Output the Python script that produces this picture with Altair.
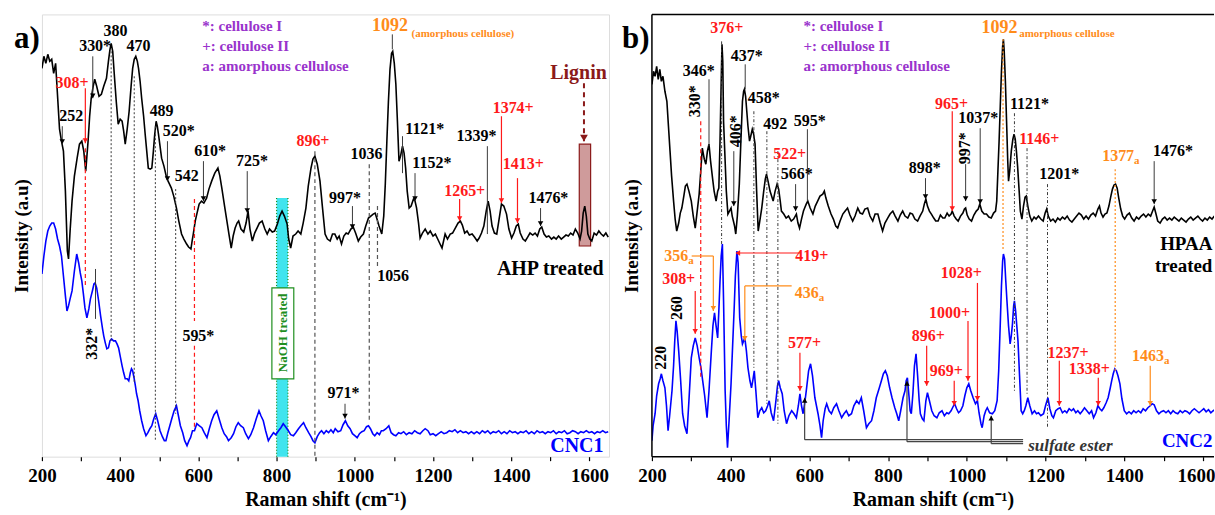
import altair as alt
import pandas as pd

# ---------------- spectra (wavenumber cm-1, intensity a.u.) ----------------
A_AHP = [(200,389),(205,401),(210,394),(215,403),(220,396),(225,398),(230,384),(235,394),(240,361),(245,328),
(250,316),(255,306),(260,266),(265,206),(268,198),(272,226),(277,256),(283,281),(290,299),(296,313),(302,316),
(307,306),(312,286),(318,316),(322,341),(326,359),(331,371),(335,378),(340,371),(346,361),(352,363),(358,371),
(365,379),(370,396),(374,408),(377,414),(381,406),(385,383),(390,356),(395,333),(400,338),(405,336),(409,326),
(413,313),(418,328),(423,346),(428,371),(432,389),(436,398),(440,401),(444,396),(447,389),(451,376),(455,359),
(460,341),(464,323),(468,306),(472,289),(477,288),(481,289),(485,306),(488,321),(492,336),(495,331),(498,323),
(502,311),(506,299),(512,291),(519,279),(525,274),(531,269),(537,261),(544,249),(550,236),(557,223),(563,218),
(570,213),(575,210),(581,208),(584,216),(587,223),(592,236),(596,243),(602,253),(608,256),(614,254),(621,259),
(627,268),(634,276),(642,284),(650,289),(655,281),(660,269),(667,251),(673,236),(679,221),(684,209),(689,221),
(694,229),(699,234),(703,236),(709,228),(716,225),(722,234),(727,246),(732,228),(738,216),(744,224),(750,229),
(756,234),(763,236),(770,228),(776,223),(782,228),(789,225),(795,226),(802,233),(808,241),(814,246),(820,241),
(827,233),(831,218),(836,209),(842,221),(849,223),(855,226),(862,223),(868,234),(875,249),(881,271),(888,289),
(893,298),(898,301),(904,293),(911,276),(917,251),(924,223),(930,218),(937,216),(943,223),(949,223),(955,218),
(960,221),(966,213),(972,221),(978,224),(983,223),(990,228),(996,230),(1002,224),(1009,216),(1015,220),(1022,223),
(1028,231),(1035,239),(1041,241),(1047,243),(1052,244),(1056,239),(1062,231),(1069,223),(1074,241),(1078,273),
(1082,316),(1086,356),(1090,388),(1094,404),(1097,406),(1101,394),(1105,373),(1109,336),(1113,296),(1117,301),
(1122,311),(1126,304),(1130,289),(1134,266),(1139,249),(1144,251),(1150,258),(1154,256),(1158,249),(1163,234),
(1167,219),(1173,224),(1180,228),(1187,223),(1193,226),(1200,221),(1206,223),(1212,218),(1218,213),(1223,209),
(1227,216),(1231,223),(1237,218),(1244,223),(1250,224),(1257,229),(1264,234),(1270,236),(1275,232),(1281,224),
(1287,226),(1293,222),(1300,223),(1306,220),(1313,216),(1318,219),(1324,224),(1330,231),(1336,246),(1341,256),
(1346,246),(1351,231),(1357,224),(1363,223),(1369,238),(1375,253),(1381,251),(1388,243),(1394,228),(1401,219),
(1407,224),(1413,231),(1418,233),(1423,224),(1430,218),(1436,216),(1442,220),(1448,224),(1455,222),(1461,224),
(1467,221),(1473,228),(1478,230),(1484,223),(1490,220),(1496,221),(1503,218),(1509,220),(1515,218),(1521,221),
(1528,218),(1534,220),(1540,222),(1546,221),(1552,224),(1558,222),(1564,228),(1570,224),(1576,218),(1580,226),
(1584,244),(1588,251),(1592,241),(1596,223),(1601,218),(1606,216),(1612,224),(1618,222),(1624,226),(1630,223),
(1636,221),(1642,224),(1648,220)]

A_CNC1 = [(200,183),(205,201),(210,216),(215,226),(220,231),(225,234),(230,234),(235,228),(240,218),(245,211),
(250,201),(255,181),(260,161),(264,146),(268,151),(272,158),(277,166),(283,186),(289,203),(294,194),(298,184),
(302,176),(306,163),(310,149),(315,139),(320,148),(324,158),(329,166),(333,173),(336,174),(340,169),(345,156),
(350,141),(355,128),(358,121),(362,114),(366,108),(370,109),(374,116),(378,118),(383,116),(388,116),(392,113),
(396,109),(400,101),(405,91),(409,84),(413,78),(418,78),(422,76),(426,84),(429,88),(432,86),(436,78),(439,71),
(442,63),(446,56),(450,46),(455,36),(460,28),(466,21),(471,24),(476,28),(481,31),(486,38),(491,43),(496,36),
(502,26),(508,20),(513,16),(517,16),(522,24),(527,31),(532,38),(538,46),(544,51),(549,41),(554,31),(560,24),
(565,16),(571,11),(576,16),(580,19),(585,26),(590,26),(596,33),(602,31),(609,29),(615,24),(622,19),(628,28),
(634,36),(640,42),(647,46),(653,38),(660,29),(666,23),(672,20),(677,16),(684,19),(690,23),(696,30),(702,34),
(708,31),(715,29),(721,23),(728,18),(734,22),(741,29),(748,38),(755,46),(760,41),(766,36),(772,26),(779,16),
(785,20),(792,24),(798,22),(805,26),(811,29),(817,33),(823,30),(830,26),(836,22),(843,21),(849,24),(856,28),
(862,31),(869,34),(875,29),(882,24),(888,20),(893,16),(898,14),(904,20),(910,24),(915,26),(921,23),(927,26),
(933,24),(939,27),(945,24),(950,28),(957,25),(964,26),(970,32),(976,36),(982,31),(988,28),(994,23),(1000,21),
(1006,19),(1012,23),(1018,25),(1024,26),(1030,30),(1035,31),(1040,28),(1046,23),(1051,21),(1057,24),(1063,22),
(1068,26),(1073,26),(1080,28),(1087,31),(1093,24),(1099,22),(1105,21),(1112,24),(1118,23),(1125,25),(1132,22),
(1139,24),(1146,23),(1153,26),(1160,24),(1167,23),(1174,26),(1180,28),(1187,26),(1193,22),(1200,23),(1207,21),
(1214,23),(1221,25),(1228,23),(1235,24),(1242,26),(1249,25),(1256,27),(1263,24),(1270,26),(1277,24),(1284,25),
(1291,23),(1298,25),(1305,23),(1312,25),(1319,23),(1326,26),(1333,24),(1340,26),(1347,23),(1354,25),(1361,24),
(1368,26),(1375,23),(1382,25),(1389,23),(1396,26),(1403,24),(1410,25),(1417,23),(1424,25),(1431,24),(1438,26),
(1445,23),(1452,25),(1459,23),(1466,26),(1473,24),(1480,25),(1487,23),(1494,25),(1501,24),(1508,26),(1515,23),
(1522,25),(1529,24),(1536,26),(1543,23),(1550,24),(1557,26),(1564,25),(1571,23),(1578,25),(1585,24),(1592,26),
(1599,24),(1606,25),(1613,23),(1620,25),(1627,24),(1634,26),(1641,24),(1648,25)]

B_HPAA = [(200,373),(204,386),(208,381),(212,391),(216,378),(220,388),(224,376),(228,381),(233,366),(238,356),
(242,331),(246,306),(250,281),(255,256),(259,238),(263,226),(268,234),(272,244),(276,249),(281,261),(285,271),
(289,273),(294,266),(300,256),(305,241),(310,229),(315,246),(320,263),(324,286),(328,309),(333,298),(337,293),
(341,306),(345,313),(349,296),(354,279),(358,266),(363,256),(367,266),(370,269),(373,316),(376,376),(378,413),
(380,396),(382,336),(385,306),(389,266),(393,243),(397,246),(401,249),(404,241),(407,236),(410,231),(413,223),
(417,241),(422,273),(426,316),(430,356),(433,366),(435,368),(438,361),(441,346),(444,331),(448,316),(451,321),
(455,328),(458,324),(462,313),(466,266),(470,226),(474,236),(479,249),(484,266),(488,278),(491,283),(495,276),
(500,266),(504,261),(508,256),(513,266),(518,273),(522,268),(526,256),(529,246),(535,243),(541,239),(547,241),
(554,236),(560,238),(567,243),(571,234),(575,229),(580,238),(585,246),(588,249),(592,253),(596,256),(602,249),
(609,243),(615,251),(621,256),(627,261),(634,263),(638,266),(642,259),(648,251),(655,243),(661,238),(667,231),
(672,229),(678,236),(685,243),(691,246),(697,249),(703,242),(710,236),(716,241),(723,249),(729,244),(735,243),
(741,248),(748,249),(754,241),(761,236),(767,243),(774,243),(780,234),(786,226),(792,234),(799,239),(805,243),
(812,246),(818,241),(825,236),(831,242),(837,246),(843,241),(850,239),(856,244),(862,243),(868,238),(875,236),
(881,241),(888,246),(892,253),(896,258),(900,251),(905,246),(910,243),(916,239),(921,236),(927,236),(933,242),
(939,239),(944,239),(950,244),(955,241),(960,243),(963,246),(968,241),(973,238),(978,236),(984,241),(990,244),
(994,248),(997,249),(1001,242),(1006,238),(1012,236),(1018,242),(1024,246),(1029,248),(1033,253),(1038,246),
(1044,243),(1050,243),(1056,240),(1062,239),(1068,244),(1073,246),(1076,256),(1079,286),(1082,316),(1085,351),
(1088,386),(1091,411),(1093,418),(1095,406),(1098,376),(1101,336),(1104,296),(1106,276),(1109,286),(1113,306),
(1117,318),(1120,323),(1123,318),(1126,306),(1129,291),(1133,266),(1136,246),(1140,238),(1144,251),(1148,260),
(1151,261),(1155,251),(1160,241),(1165,236),(1171,240),(1176,238),(1182,241),(1188,238),(1194,236),(1199,244),
(1203,248),(1207,241),(1213,236),(1219,238),(1225,235),(1231,239),(1237,237),(1243,240),(1249,238),(1255,241),
(1261,237),(1267,235),(1273,238),(1279,241),(1285,244),(1291,242),(1297,238),(1303,241),(1309,238),(1315,242),
(1321,244),(1327,241),(1333,248),(1337,251),(1341,244),(1346,240),(1351,243),(1356,244),(1361,251),(1366,261),
(1370,268),(1374,272),(1378,273),(1382,269),(1386,259),(1391,248),(1396,241),(1401,238),(1407,242),(1413,244),
(1419,239),(1425,236),(1431,240),(1437,238),(1443,241),(1449,243),(1455,240),(1461,243),(1467,241),(1472,246),
(1476,250),(1480,244),(1485,236),(1491,234),(1497,238),(1503,240),(1509,237),(1515,239),(1521,237),(1527,240),
(1533,238),(1539,236),(1545,239),(1551,237),(1557,235),(1563,238),(1569,240),(1575,237),(1581,239),(1587,241),
(1593,238),(1599,236),(1605,239),(1611,237),(1617,240),(1623,238),(1629,241)]

B_CNC2 = [(200,16),(203,31),(208,43),(212,61),(217,73),(221,78),(224,83),(228,76),(233,69),(237,51),(241,26),
(245,41),(251,66),(255,91),(258,116),(261,136),(264,126),(268,106),(273,76),(278,43),(283,31),(289,23),(294,56),
(300,99),(305,111),(310,119),(315,111),(320,99),(325,88),(329,76),(334,61),(340,39),(345,66),(351,106),(355,131),
(359,144),(363,131),(367,119),(370,146),(373,176),(376,201),(379,213),(382,156),(386,66),(389,31),(392,9),
(396,36),(401,73),(405,111),(409,149),(412,181),(416,206),(419,194),(423,139),(427,121),(430,113),(433,116),
(436,119),(440,106),(444,89),(449,76),(453,69),(457,78),(460,86),(464,66),(469,39),(474,46),(479,49),(484,44),
(489,46),(494,51),(498,56),(503,44),(509,36),(515,56),(519,71),(522,76),(526,69),(531,63),(536,46),(542,33),
(548,41),(555,46),(561,43),(567,39),(572,51),(576,63),(580,51),(584,43),(589,56),(593,69),(598,86),(603,93),
(608,81),(614,59),(618,51),(622,43),(627,31),(631,19),(635,36),(640,48),(644,53),(650,46),(656,43),(662,49),
(669,53),(675,46),(682,39),(688,43),(694,46),(700,41),(707,43),(713,51),(720,56),(726,53),(732,59),(738,46),
(745,29),(751,33),(758,36),(764,46),(770,59),(777,68),(783,76),(788,83),(793,86),(798,81),(804,69),(810,59),
(817,49),(822,43),(827,36),(832,46),(838,59),(843,66),(846,76),(849,79),(853,61),(856,46),(859,43),(863,63),
(867,91),(871,103),(875,81),(879,56),(882,43),(887,38),(891,36),(896,56),(900,64),(905,56),(911,46),(917,41),
(924,39),(930,44),(937,46),(943,41),(949,44),(954,43),(960,46),(965,50),(969,53),(974,48),(979,44),(984,46),
(990,51),(995,61),(1000,69),(1005,73),(1010,66),(1016,59),(1022,53),(1027,56),(1031,44),(1036,33),(1039,29),
(1044,41),(1048,46),(1052,49),(1058,44),(1065,43),(1071,46),(1077,56),(1081,86),(1085,133),(1088,171),(1091,196),
(1093,203),(1096,198),(1099,176),(1102,156),(1106,131),(1110,113),(1113,121),(1116,133),(1119,151),(1121,156),
(1124,146),(1127,131),(1130,116),(1134,81),(1138,46),(1142,43),(1146,46),(1150,51),(1155,59),(1160,51),(1166,43),
(1172,46),(1177,43),(1182,44),(1188,41),(1195,43),(1200,51),(1206,59),(1211,48),(1216,41),(1220,39),(1226,46),
(1232,48),(1237,49),(1243,44),(1249,46),(1254,44),(1260,48),(1266,46),(1271,48),(1277,44),(1282,46),(1288,43),
(1294,46),(1299,49),(1305,46),(1311,43),(1317,46),(1322,39),(1328,44),(1333,51),(1338,48),(1343,46),(1348,49),
(1354,54),(1359,59),(1364,68),(1368,76),(1372,83),(1376,88),(1380,86),(1384,81),(1389,73),(1394,58),(1400,46),
(1406,43),(1412,45),(1418,43),(1424,46),(1430,44),(1436,46),(1442,44),(1448,48),(1454,46),(1460,49),(1466,51),
(1471,53),(1476,52),(1482,46),(1488,43),(1494,45),(1500,46),(1506,44),(1512,46),(1518,43),(1524,46),(1530,44),
(1536,43),(1542,46),(1548,44),(1554,46),(1560,45),(1566,43),(1572,46),(1578,48),(1584,46),(1590,44),(1596,46),
(1602,48),(1608,45),(1614,47),(1620,44),(1626,46),(1630,47)]

# ---------------- annotations panel a ----------------
A_DOT_BLACK = [(377,406,116),(436,381,73),(490,331,16),(542,268,43)]
A_DASH_GRAY = [(898,306,0),(1037,293,36),(1058,251,188)]
A_DASH_RED = [(311,309,171),(590,258,136),(590,111,29)]
A_ARROW_GRAY = [(330,401,359),(252,331,313),(521,316,276),(613,296,256),(725,286,244),(994,251,228),
                (1154,284,256),(1475,249,231),(975,53,38)]
A_LINE_GRAY = [(1096,423,408),(1122,321,284),(1339,311,223),(337,188,138)]
A_ARROW_RED = [(311,369,314),(1268,258,236),(1375,341,254),(1416,279,234)]
A_LIGNIN_ARROW = [(1586,374,316)]
A_BAND_EDGE = [(800,0,259),(829,0,259)]
A_BAND = [(800,829,0,259)]
A_NAOH_BOX = [(788,844,78,169)]
A_LIGNIN_BOX = [(1574,1603,211,313)]

A_TXT_BLACK = [("380",388,426),("330*",336,411),("470",447,411),("252",275,341),("489",506,346),
               ("520*",550,326),("542",570,281),("610*",630,306),("725*",737,296),("997*",975,259),
               ("1036",1030,303),("1121*",1179,328),("1152*",1197,294),("1339*",1311,321),("1476*",1495,259),
               ("595*",600,121),("971*",971,64),("1056",1098,181)]
A_TXT_RED = [("308+",277,374),("896+",893,316),("1265+",1281,266),("1374+",1405,349),("1413+",1431,293)]
A_TXT_ROT = [("332*",328,113)]
A_TXT_1092 = [("1092",1090,431)]
A_TXT_AMORPH = [("(amorphous cellulose)",1145,423)]
A_LEGEND = [("*: cellulose I",610,431),("+: cellulose II",610,411),("a: amorphous cellulose",610,391)]
A_TAG_BLACK = [("AHP treated",1636,188)]
A_TAG_BLUE = [("CNC1",1636,11)]
A_TAG_LIGNIN = [("Lignin",1572,384)]
A_TAG_NAOH = [("NaOH treated",816,124)]

# ---------------- annotations panel b ----------------
B_DOT_BLACK = [(377,416,211),(459,346,89),(492,326,53),(520,306,33),(1121,344,66),(1153,309,63),(1205,273,29)]
B_DASH_RED = [(324,336,79)]
B_DOT_ORANGE = [(1092,418,206),(1377,288,86)]
B_LINE_GRAY = [(345,378,311),(437,393,368),(595,328,256)]
B_ARROW_GRAY = [(408,306,251),(565,273,246),(895,279,258),(997,293,256),(1034,329,253),(1476,296,253)]
B_ARROW_RED = [(963,346,246),(310,166,123),(576,104,66),(898,111,71),(968,76,51),(1003,136,76),
               (1027,174,56),(1235,96,51),(1334,79,51)]
B_ARROW_ORANGE = [(356,201,146),(436,171,116),(1466,91,51)]
B_HLINE_ORANGE = [(301,356,201),(555,436,171)]
B_HARROW_RED = [(576,418,204)]
B_SULF_V = [(588,59,17),(848,76,15),(1062,41,13)]
B_SULF_H = [(588,1143,17),(848,1143,15),(1062,1143,13)]

B_TXT_BLACK = [("346*",319,386),("437*",441,401),("458*",484,359),("492",513,333),("566*",568,283),
               ("595*",601,336),("898*",893,289),("1037*",1029,339),("1121*",1159,353),("1201*",1235,283),
               ("1476*",1524,306)]
B_TXT_ROT = [("330*",309,356),("406*",413,326),("997*",996,309),("260",263,149),("220",223,99)]
B_TXT_RED = [("376+",390,429),("522+",550,303),("965+",961,353),("1146+",1184,318),("308+",268,178),
             ("419+",606,201),("577+",588,114),("896+",902,121),("969+",948,86),("1000+",956,144),
             ("1028+",986,184),("1237+",1257,104),("1338+",1311,88)]
B_TXT_ORANGE_NUM = [("356",292,201),("436",624,164),("1377",1425,301),("1463",1501,101)]
B_TXT_1092 = [("1092",1083,429)]
B_TXT_AMORPH = [("amorphous cellulose",1133,423)]
B_LEGEND = [("*: cellulose I",585,431),("+: cellulose II",585,411),("a: amorphous cellulose",585,391)]
B_TAG_BLACK = [("HPAA",1624,213),("treated",1624,191)]
B_TAG_BLUE = [("CNC2",1624,16)]
B_TAG_SULF = [("sulfate ester",1156,11)]

X_TICKS = list(range(200, 1601, 100))

# ---------------- styling ----------------
FONT = "Liberation Serif"
RED = "#ff1a1a"
ORANGE = "#ff8c1a"
PURPLE = "#9933cc"
BLUE = "#0000ff"
GRAY = "#3a3a3a"
DARKRED = "#8b1a1a"
GREEN = "#1f8f1f"
CYAN = "#40e4ee"
A_XDOM = [200, 1650]
B_XDOM = [200, 1628]
YDOM = [0, 443]
A_W, B_W, H = 568, 563, 443


def make_x(dom, flush_last=False):
    extra = {}
    if flush_last:
        extra["labelAlign"] = {"expr": "datum.value == 1600 ? 'right' : 'center'"}
        extra["labelOffset"] = {"expr": "datum.value == 1600 ? 12 : 0"}

    def X(field="wn"):
        return alt.X(f"{field}:Q", scale=alt.Scale(domain=dom, nice=False, zero=False),
                     axis=alt.Axis(values=X_TICKS, format="d",
                                   labelExpr="datum.value % 200 == 0 ? datum.label : ''",
                                   tickSize=4, tickColor="black", tickWidth=1.2, domain=False, grid=False,
                                   labelFont=FONT, labelFontWeight="bold", labelFontSize=19, labelColor="black",
                                   labelPadding=6, labelFlush=False,
                                   title="Raman shift (cm\u207b\u00b9)", titleFont=FONT, titleFontSize=20,
                                   titleFontWeight="bold", titleColor="black", titlePadding=4, **extra))
    return X


def Y(field="I"):
    return alt.Y(f"{field}:Q", scale=alt.Scale(domain=YDOM, nice=False, zero=False),
                 axis=alt.Axis(title="Intensity (a.u)", labels=False, ticks=False, domain=False, grid=False,
                               titleFont=FONT, titleFontSize=19, titleFontWeight="bold", titleColor="black",
                               titlePadding=10))


class Panel:
    def __init__(self, X):
        self.X = X

    def spectrum(self, pairs, color):
        df = pd.DataFrame(pairs, columns=["wn", "I"])
        return alt.Chart(df).mark_line(color=color, strokeWidth=1.6, clip=True).encode(x=self.X(), y=Y())

    def vrules(self, rows, color, dash=None, width=1.0):
        df = pd.DataFrame(rows, columns=["wn", "I", "I2"])
        kw = dict(color=color, strokeWidth=width)
        if dash:
            kw["strokeDash"] = dash
        return alt.Chart(df).mark_rule(**kw).encode(x=self.X(), y=Y(), y2=alt.Y2("I2:Q"))

    def hrules(self, rows, color, width=1.0):
        df = pd.DataFrame(rows, columns=["wn", "w2", "I"])
        return alt.Chart(df).mark_rule(color=color, strokeWidth=width).encode(
            x=self.X(), x2=alt.X2("w2:Q"), y=Y())

    def heads(self, rows, color, shape="triangle-down", off=2.5, size=30):
        df = pd.DataFrame(rows, columns=["wn", "I0", "I2"])
        if shape == "triangle-down":
            df["I"] = df["I2"] + off
        else:
            df["I"] = df["I0"] - off
        return alt.Chart(df).mark_point(shape=shape, filled=True, size=size, color=color, opacity=1).encode(
            x=self.X(), y=Y())

    def hheads(self, rows, color, size=30):
        df = pd.DataFrame(rows, columns=["w1", "wn", "I"])
        return alt.Chart(df).mark_point(shape="triangle-left", filled=True, size=size, color=color,
                                        opacity=1).encode(x=self.X(), y=Y())

    def rects(self, rows, fill, stroke=None, opacity=1.0, width=1.0):
        df = pd.DataFrame(rows, columns=["wn", "w2", "I", "I2"])
        kw = dict(fill=fill, fillOpacity=opacity, strokeWidth=width)
        if stroke:
            kw["stroke"] = stroke
        return alt.Chart(df).mark_rect(**kw).encode(x=self.X(), x2=alt.X2("w2:Q"), y=Y(), y2=alt.Y2("I2:Q"))

    def texts(self, rows, color, size=16, align="center", angle=0, style="normal", dy=0):
        df = pd.DataFrame(rows, columns=["t", "wn", "I"])
        return alt.Chart(df).mark_text(color=color, font=FONT, fontWeight="bold", fontSize=size, align=align,
                                       baseline="middle", angle=angle, fontStyle=style, dy=dy,
                                       clip=True).encode(x=self.X(), y=Y(), text="t:N")


def panel_label(txt, xoff):
    df = pd.DataFrame({"t": [txt]})
    return alt.Chart(df).mark_text(font=FONT, fontWeight="bold", fontSize=31, align="left",
                                   baseline="middle", color="black").encode(
        x=alt.value(xoff), y=alt.value(25), text="t:N")


def open_frame(width, height):
    df = pd.DataFrame({"k": [0]})
    base = alt.Chart(df).mark_rule(color="black", strokeWidth=1.5)
    return alt.layer(
        base.encode(x=alt.value(0), y=alt.value(0), y2=alt.value(height)),
        base.encode(x=alt.value(0), x2=alt.value(width), y=alt.value(0)),
        base.encode(x=alt.value(0), x2=alt.value(width), y=alt.value(height)),
    )


pa = Panel(make_x(A_XDOM))
panel_a = alt.layer(
    pa.rects(A_BAND, CYAN),
    pa.vrules(A_BAND_EDGE, GREEN, dash=[1, 2], width=1.2),
    pa.rects(A_LIGNIN_BOX, "#a84848", stroke=DARKRED, opacity=0.55, width=1.2),
    pa.spectrum(A_CNC1, BLUE),
    pa.spectrum(A_AHP, "black"),
    pa.rects(A_NAOH_BOX, "white", stroke=GREEN, opacity=1.0, width=1.2),
    pa.vrules(A_DOT_BLACK, GRAY, dash=[2, 2]),
    pa.vrules(A_DASH_GRAY, "#555555", dash=[4, 3], width=1.2),
    pa.vrules(A_DASH_RED, RED, dash=[4, 3], width=1.2),
    pa.vrules(A_ARROW_GRAY, GRAY),
    pa.heads(A_ARROW_GRAY, "black"),
    pa.vrules(A_LINE_GRAY, GRAY),
    pa.vrules(A_ARROW_RED, RED, width=1.2),
    pa.heads(A_ARROW_RED, RED),
    pa.vrules(A_LIGNIN_ARROW, DARKRED, dash=[5, 4], width=2),
    pa.heads(A_LIGNIN_ARROW, DARKRED, size=60, off=3),
    pa.texts(A_TXT_BLACK, "black"),
    pa.texts(A_TXT_RED, RED),
    pa.texts(A_TXT_ROT, "black", angle=270),
    pa.texts(A_TXT_1092, ORANGE, size=18),
    pa.texts(A_TXT_AMORPH, ORANGE, size=11, align="left"),
    pa.texts(A_LEGEND, PURPLE, size=15, align="left"),
    pa.texts(A_TAG_BLACK, "black", size=20, align="right"),
    pa.texts(A_TAG_BLUE, BLUE, size=20, align="right"),
    pa.texts(A_TAG_LIGNIN, DARKRED, size=20),
    pa.texts(A_TAG_NAOH, GREEN, size=13, angle=270),
    panel_label("a)", -28),
).properties(width=A_W, height=H)

pb = Panel(make_x(B_XDOM, flush_last=True))
panel_b = alt.layer(
    pb.spectrum(B_CNC2, BLUE),
    pb.spectrum(B_HPAA, "black"),
    pb.vrules(B_DOT_BLACK, GRAY, dash=[3, 2, 1, 2]),
    pb.vrules(B_DASH_RED, RED, dash=[4, 3], width=1.2),
    pb.vrules(B_DOT_ORANGE, ORANGE, dash=[2, 2], width=1.2),
    pb.vrules(B_LINE_GRAY, GRAY),
    pb.vrules(B_ARROW_GRAY, GRAY),
    pb.heads(B_ARROW_GRAY, "black"),
    pb.vrules(B_ARROW_RED, RED, width=1.2),
    pb.heads(B_ARROW_RED, RED),
    pb.vrules(B_ARROW_ORANGE, ORANGE, width=1.2),
    pb.heads(B_ARROW_ORANGE, ORANGE),
    pb.hrules(B_HLINE_ORANGE, ORANGE, width=1.2),
    pb.hrules(B_HARROW_RED, RED, width=1.2),
    pb.hheads(B_HARROW_RED, RED),
    pb.vrules(B_SULF_V, "#444444", width=1.2),
    pb.heads(B_SULF_V, "black", shape="triangle-up"),
    pb.hrules(B_SULF_H, "#444444", width=1.2),
    pb.texts(B_TXT_BLACK, "black"),
    pb.texts(B_TXT_ROT, "black", angle=270),
    pb.texts(B_TXT_RED, RED),
    pb.texts(B_TXT_ORANGE_NUM, ORANGE, align="right"),
    pb.texts([("a", t[1], t[2]) for t in B_TXT_ORANGE_NUM], ORANGE, size=11, align="left", dy=5),
    pb.texts(B_TXT_1092, ORANGE, size=18),
    pb.texts(B_TXT_AMORPH, ORANGE, size=11, align="left"),
    pb.texts(B_LEGEND, PURPLE, size=15, align="left"),
    pb.texts(B_TAG_BLACK, "black", size=19, align="right"),
    pb.texts(B_TAG_BLUE, BLUE, size=19, align="right"),
    pb.texts(B_TAG_SULF, "#333333", size=17, align="left", style="italic"),
    open_frame(B_W, H),
    panel_label("b)", -30),
).properties(width=B_W, height=H, view=alt.ViewBackground(strokeOpacity=0, strokeWidth=0))

chart = alt.hconcat(panel_a, panel_b, spacing=12).properties(
    padding={"left": 12, "top": 13, "right": 0, "bottom": 0}
).configure_view(stroke="black", strokeWidth=1.5).configure(background="white")

chart.save("out.html", embed_options={"renderer": "svg", "actions": False})
